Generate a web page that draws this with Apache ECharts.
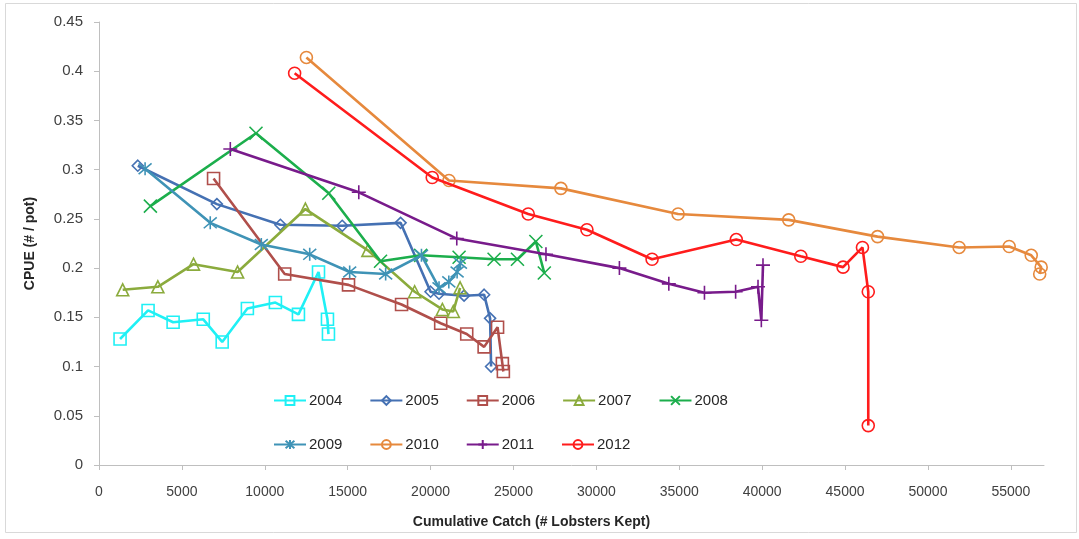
<!DOCTYPE html>
<html>
<head>
<meta charset="utf-8">
<title>CPUE vs Cumulative Catch</title>
<script src="https://cdn.jsdelivr.net/npm/echarts@6/dist/echarts.min.js"></script>
<style>
  html, body { margin: 0; padding: 0; background: #fff; }
  #chart { width: 1079px; height: 539px; }
</style>
</head>
<body>
<div id="chart"></div>
<script>
// Cumulative catch (x) and CPUE (y) per season
const x2004 = [1270, 2960, 4470, 6290, 7430, 8950, 10640, 12030, 13240, 13780, 13840];
const y2004 = [0.128, 0.157, 0.145, 0.148, 0.125, 0.159, 0.165, 0.153, 0.196, 0.148, 0.133];

const x2005 = [2340, 7110, 10940, 14670, 18190, 20000, 20510, 22020, 23230, 23590, 23650];
const y2005 = [0.304, 0.265, 0.244, 0.243, 0.246, 0.176, 0.174, 0.172, 0.173, 0.149, 0.100];

const x2006 = [6910, 11200, 15050, 18250, 20610, 22180, 23230, 24040, 24330, 24390];
const y2006 = [0.291, 0.194, 0.183, 0.163, 0.144, 0.133, 0.120, 0.140, 0.103, 0.095];

const x2007 = [1430, 3550, 5700, 8360, 12450, 16220, 19040, 20710, 21370, 21780];
const y2007 = [0.178, 0.181, 0.204, 0.196, 0.260, 0.218, 0.176, 0.158, 0.156, 0.180];

const x2008 = [3100, 9470, 13860, 16980, 19400, 21720, 23830, 25240, 26350, 26860];
const y2008 = [0.263, 0.337, 0.276, 0.207, 0.213, 0.211, 0.209, 0.209, 0.227, 0.195];

const x2009 = [2780, 6710, 9790, 12710, 15120, 17290, 19450, 20510, 21100, 21600, 21800];
const y2009 = [0.301, 0.246, 0.224, 0.214, 0.196, 0.194, 0.213, 0.180, 0.186, 0.196, 0.205];

const x2010 = [12510, 21110, 27860, 34930, 41600, 46960, 51880, 54900, 56230, 56830, 56740];
const y2010 = [0.414, 0.289, 0.281, 0.255, 0.249, 0.232, 0.221, 0.222, 0.213, 0.201, 0.194];

const x2011 = [7920, 15670, 21580, 26960, 31390, 34370, 36520, 38400, 39750, 39950, 40050];
const y2011 = [0.321, 0.277, 0.230, 0.214, 0.200, 0.184, 0.175, 0.176, 0.181, 0.147, 0.203];

const x2012 = [11800, 20100, 25890, 29430, 33360, 38440, 42330, 44880, 46050, 46400, 46400];
const y2012 = [0.398, 0.292, 0.255, 0.239, 0.209, 0.229, 0.212, 0.201, 0.221, 0.176, 0.040];

const xTicks = [0, 5000, 10000, 15000, 20000, 25000, 30000, 35000, 40000, 45000, 50000, 55000];

const years = ['2004', '2005', '2006', '2007', '2008', '2009', '2010', '2011', '2012'];
const xs = [x2004, x2005, x2006, x2007, x2008, x2009, x2010, x2011, x2012];
const ys = [y2004, y2005, y2006, y2007, y2008, y2009, y2010, y2011, y2012];

const colors = ['#1ff0f5', '#4571b3', '#b04f4b', '#8bab3d', '#1cae4c', '#3f93b6', '#e6893d', '#781b8b', '#ff1c1c'];

// Marker shapes: hollow squares, diamonds, triangles, circles; stroked x / asterisk / plus
const symX = 'path://M0,0L10,10M10,0L0,10';
const symStar = 'path://M0,0L10,10M10,0L0,10M5,-1L5,11';
const symPlus = 'path://M5,0L5,10M0,5L10,5';
const symbols = ['rect', 'diamond', 'rect', 'triangle', symX, symStar, 'circle', symPlus, 'circle'];
const sizes = [12, 11, 12, 12, 13, 13, 12, 14, 12];

const series = years.map((name, i) => ({
  name: name,
  type: 'line',
  data: xs[i].map((v, j) => [v, ys[i][j]]),
  color: colors[i],
  symbol: symbols[i],
  symbolSize: sizes[i],
  showAllSymbol: true,
  lineStyle: { color: colors[i], width: 2.6 },
  itemStyle: { color: 'rgba(255,255,255,0)', borderColor: colors[i], borderWidth: 1.6 },
  emphasis: { disabled: true },
  animation: false,
  z: 2 + i
}));

const labelFont = { fontFamily: 'Liberation Sans', color: '#404040' };

const chart = echarts.init(document.getElementById('chart'), null, { renderer: 'canvas' });
chart.setOption({
  backgroundColor: '#ffffff',
  animation: false,
  grid: { left: 99, right: 35, top: 22, bottom: 74 },
  xAxis: {
    type: 'value',
    min: 0,
    max: 57000,
    interval: 5000,
    splitLine: { show: false },
    axisLine: { show: true, lineStyle: { color: '#bfbfbf', width: 1 } },
    axisTick: { show: true, length: 5, lineStyle: { color: '#bfbfbf' }, customValues: xTicks },
    axisLabel: Object.assign({
      fontSize: 14, margin: 20, customValues: xTicks,
      formatter: v => String(Math.round(v))
    }, labelFont),
    name: 'Cumulative Catch (# Lobsters Kept)',
    nameLocation: 'middle',
    nameGap: 50,
    nameTextStyle: { fontFamily: 'Liberation Sans', fontWeight: 'bold', fontSize: 14, color: '#262626', padding: [0, 80, 0, 0] }
  },
  yAxis: {
    type: 'value',
    min: 0,
    max: 0.45,
    interval: 0.05,
    splitLine: { show: false },
    axisLine: { show: true, lineStyle: { color: '#bfbfbf', width: 1 } },
    axisTick: { show: true, length: 5, lineStyle: { color: '#bfbfbf' } },
    axisLabel: Object.assign({
      fontSize: 15, margin: 16,
      formatter: v => String(+v.toFixed(2))
    }, labelFont),
    name: 'CPUE (# / pot)',
    nameLocation: 'middle',
    nameGap: 62,
    nameTextStyle: { fontFamily: 'Liberation Sans', fontWeight: 'bold', fontSize: 14, color: '#262626' }
  },
  legend: [
    {
      data: years.slice(0, 5),
      left: 268, top: 388,
      orient: 'horizontal',
      itemWidth: 32, itemHeight: 11, itemGap: 27,
      textStyle: { fontFamily: 'Liberation Sans', fontSize: 15, color: '#262626', padding: [0, 0, 0, -2] },
      selectedMode: false
    },
    {
      data: years.slice(5),
      left: 268, top: 432,
      orient: 'horizontal',
      itemWidth: 32, itemHeight: 11, itemGap: 27,
      textStyle: { fontFamily: 'Liberation Sans', fontSize: 15, color: '#262626', padding: [0, 0, 0, -2] },
      selectedMode: false
    }
  ],
  graphic: [
    {
      type: 'rect',
      shape: { x: 5.5, y: 3.5, width: 1071, height: 529 },
      style: { fill: 'none', stroke: '#d9d9d9', lineWidth: 1 },
      silent: true,
      z: -10
    }
  ],
  series: series
});
</script>
</body>
</html>
